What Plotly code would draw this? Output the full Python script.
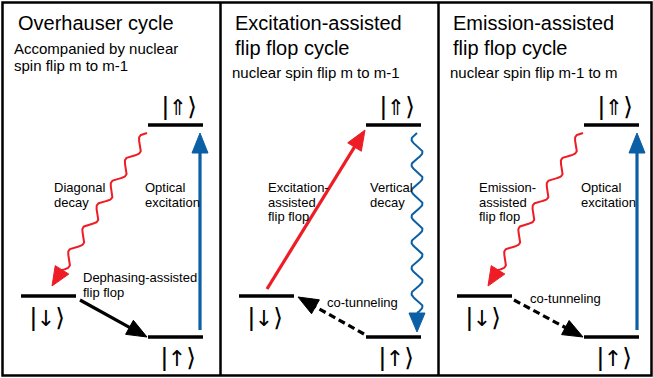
import numpy as np
import plotly.graph_objects as go

W, H = 653, 378

# ---- diagram data (pixel coordinates of the picture) ----
panel_edges = [2.5, 220.5, 438.5, 651.5]

title_text = ["Overhauser cycle", "Excitation-assisted", "flip flop cycle",
              "Emission-assisted", "flip flop cycle"]
title_x = [16, 233, 233, 451, 451]
title_y = [23, 23, 48, 23, 48]

sub_text = ["Accompanied by nuclear", "spin flip m to m-1",
            "nuclear spin flip m to m-1", "nuclear spin flip m-1 to m"]
sub_x = [12, 12, 230, 448]
sub_y = [48, 65, 72, 72]

label_text = ["Diagonal", "decay", "Optical", "excitation", "Dephasing-assisted", "flip flop",
              "Excitation-", "assisted", "flip flop", "Vertical", "decay", "co-tunneling",
              "Emission-", "assisted", "flip flop", "Optical", "excitation", "co-tunneling"]
label_x = [52, 52, 143, 143, 81, 81,
           266, 266, 266, 368, 368, 325,
           477, 477, 477, 579, 579, 528]
label_y = [187, 202, 187, 202, 277, 292,
           187, 202, 216, 187, 202, 302,
           187, 202, 216, 187, 202, 298]

level_x0 = [148, 21, 148, 366, 239, 366, 584, 457, 584]
level_x1 = [203, 76, 203, 421, 294, 421, 639, 512, 639]
level_y = [125, 296, 337, 125, 296, 337, 125, 296, 337]
ket_arrow = ["⇑", "↓", "↑"] * 3
ket_x = [179, 47, 178, 397, 265, 396, 615, 483, 614]
ket_y = [106, 317, 357, 106, 317, 357, 106, 317, 357]

RED = "#ee1c25"
BLUE = "#0b5fa5"
BLACK = "#000000"

# straight arrows: start, tip, colour, dashed
arrow_x0 = [200, 80, 267, 364, 637, 514]
arrow_y0 = [330, 300, 289, 334, 330, 300]
arrow_x1 = [200, 147, 365, 298, 637, 583]
arrow_y1 = [133, 337, 130, 297, 133, 337]
arrow_col = [BLUE, BLACK, RED, BLACK, BLUE, BLACK]
arrow_dash = [False, False, False, True, False, True]

# wavy arrows
wave_x0 = [147, 417, 583]
wave_y0 = [133, 133, 133]
wave_x1 = [52, 417, 488]
wave_y1 = [286, 332, 286]
wave_col = [RED, BLUE, RED]
wave_len = [25, 26, 25]
wave_amp = [4.5, 5.5, 4.5]

fig = go.Figure()
shapes = []
annotations = []


def head(x0, y0, x1, y1, h, w):
    u = np.array([x1 - x0, y1 - y0], float)
    L = np.hypot(*u)
    u /= L
    n = np.array([-u[1], u[0]])
    T = np.array([x1, y1], float)
    B = T - h * u
    p1 = B + w * n
    p2 = B - w * n
    path = f"M{T[0]},{T[1]} L{p1[0]},{p1[1]} L{p2[0]},{p2[1]} Z"
    return path, B, u, n, L


# frame
shapes.append(dict(type="rect", x0=panel_edges[0], x1=panel_edges[-1], y0=2.5, y1=375.5,
                   line=dict(color=BLACK, width=2.5), layer="above"))
for xe in panel_edges[1:-1]:
    shapes.append(dict(type="line", x0=xe, x1=xe, y0=2.5, y1=375.5,
                       line=dict(color=BLACK, width=2.5)))

# levels
for a, b, y in zip(level_x0, level_x1, level_y):
    shapes.append(dict(type="line", x0=a, x1=b, y0=y, y1=y, line=dict(color=BLACK, width=3.5)))

# straight arrows
for x0, y0, x1, y1, c, d in zip(arrow_x0, arrow_y0, arrow_x1, arrow_y1, arrow_col, arrow_dash):
    path, B, u, n, L = head(x0, y0, x1, y1, 20, 8)
    Bl = B + 1.0 * u
    shapes.append(dict(type="line", x0=x0, y0=y0, x1=Bl[0], y1=Bl[1],
                       line=dict(color=c, width=3.2, dash="7px,4px" if d else "solid")))
    shapes.append(dict(type="path", path=path, fillcolor=c, line=dict(color=c, width=1)))

# wavy arrows
for x0, y0, x1, y1, c, lam, amp in zip(wave_x0, wave_y0, wave_x1, wave_y1, wave_col, wave_len, wave_amp):
    path, B, u, n, L = head(x0, y0, x1, y1, 19, 8)
    Lw = L - 19
    k = max(1, round(Lw / lam))
    lam2 = Lw / k
    s = np.linspace(0, Lw, 400)
    off = amp * np.sin(2 * np.pi * s / lam2)
    px = x0 + s * u[0] + off * n[0]
    py = y0 + s * u[1] + off * n[1]
    fig.add_trace(go.Scatter(x=px, y=py, mode="lines", line=dict(color=c, width=2),
                             hoverinfo="skip", showlegend=False))
    shapes.append(dict(type="path", path=path, fillcolor=c, line=dict(color=c, width=1)))

FONT = "Liberation Sans, Arial, sans-serif"
for t, x, y in zip(title_text, title_x, title_y):
    annotations.append(dict(x=x, y=y, text=t, showarrow=False, xanchor="left", yanchor="middle",
                            font=dict(family=FONT, size=20, color=BLACK)))
for t, x, y in zip(sub_text, sub_x, sub_y):
    annotations.append(dict(x=x, y=y, text=t, showarrow=False, xanchor="left", yanchor="middle",
                            font=dict(family=FONT, size=15, color=BLACK)))
for t, x, y in zip(label_text, label_x, label_y):
    annotations.append(dict(x=x, y=y, text=t, showarrow=False, xanchor="left", yanchor="middle",
                            font=dict(family=FONT, size=13, color=BLACK)))
for a, x, y in zip(ket_arrow, ket_x, ket_y):
    txt = ("<span style='font-family:Liberation Sans;font-size:26px'>|</span>"
           f"<span style='font-family:DejaVu Sans;font-size:22px'>{a}</span>"
           "<span style='font-family:DejaVu Sans;font-size:25px'>⟩</span>")
    annotations.append(dict(x=x, y=y, text=txt, showarrow=False, xanchor="center", yanchor="middle",
                            font=dict(family="DejaVu Sans, sans-serif", size=20, color=BLACK)))

fig.update_layout(
    width=W, height=H, autosize=False,
    margin=dict(l=0, r=0, t=0, b=0),
    paper_bgcolor="white", plot_bgcolor="white",
    xaxis=dict(range=[0, W], visible=False, fixedrange=True),
    yaxis=dict(range=[H, 0], visible=False, fixedrange=True),
    shapes=shapes, annotations=annotations,
)
fig.write_html("out.html", config={"displayModeBar": False},
               post_script="document.body.style.margin='0px';document.body.style.overflow='hidden';")
